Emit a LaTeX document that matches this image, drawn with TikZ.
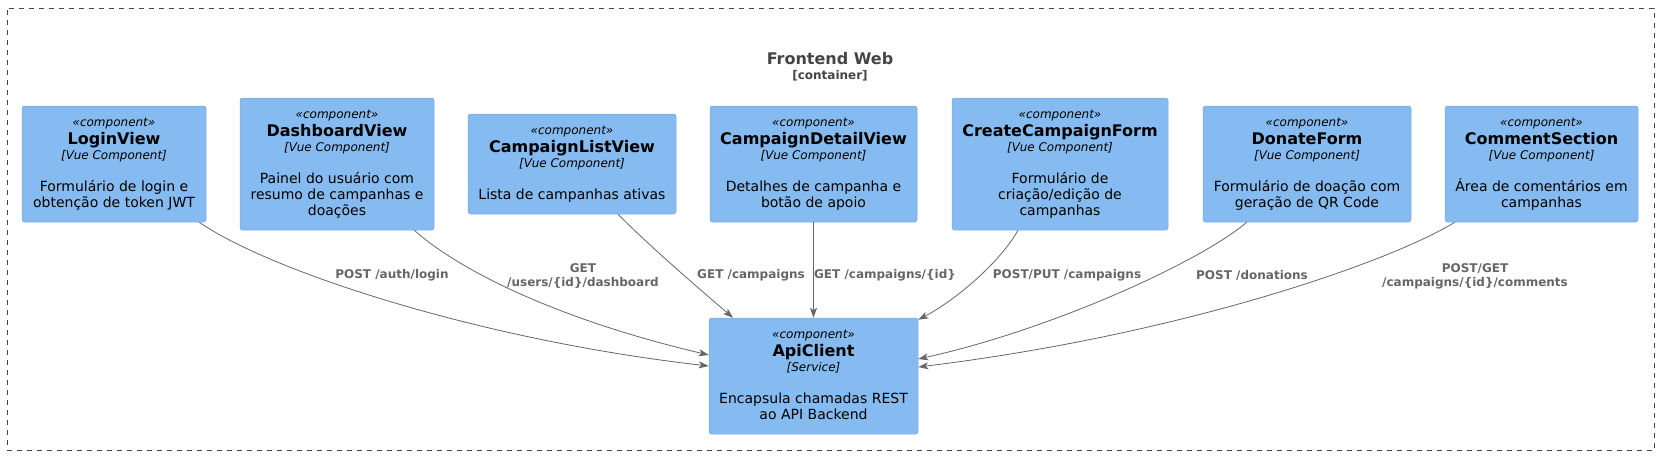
\documentclass[tikz,border=0pt]{standalone}
\usepackage{fontspec}
\setmainfont{DejaVu Sans}[ItalicFont={DejaVu Sans Oblique},BoldFont={DejaVu Sans Bold},BoldItalicFont={DejaVu Sans Bold Oblique}]
\usetikzlibrary{arrows.meta}
\definecolor{compfill}{HTML}{85BBF0}
\definecolor{compdraw}{HTML}{78A8D8}
\definecolor{edgegray}{HTML}{666666}
\definecolor{framegray}{HTML}{444444}
\tikzset{
 cbox/.style={draw=compdraw, fill=compfill, rounded corners=2.5pt, line width=0.5pt, inner sep=0pt},
 stereo/.style={anchor=base, inner sep=0pt, font=\fontsize{12}{14}\selectfont\itshape},
 cname/.style={anchor=base, inner sep=0pt, font=\fontsize{16}{19}\selectfont\bfseries},
 techtxt/.style={anchor=base, inner sep=0pt, font=\fontsize{12}{14}\selectfont\itshape},
 desctxt/.style={anchor=base, inner sep=0pt, font=\fontsize{14}{16}\selectfont},
 rel/.style={draw=edgegray, line width=0.8pt, -{Stealth[length=10pt,width=7pt,inset=2.5pt]}},
 rlabel/.style={inner sep=0pt, align=center, text=edgegray, font=\fontsize{12}{14}\selectfont\bfseries},
 boundary/.style={draw=framegray, dash pattern=on 5pt off 5pt, line width=0.8pt, inner sep=0pt},
}
\newcommand\mycomp[7]{%
  \pgfmathsetmacro\comph{84+16*#4}%
  \node[cbox, minimum width=#3, minimum height=\comph] (#1) at #2 {};
  \node[stereo] (#1-s) at ([yshift=-20.5pt]#1.north) {«component»};
  \node[cname] (#1-n) at ([yshift=-38.5pt]#1.north) {#5};
  \node[techtxt] (#1-t) at ([yshift=-53.5pt]#1.north) {[#6]};
  \foreach \dline [count=\i] in {#7} {
    \node[desctxt] (#1-d\i) at ([yshift={-86-16*(\i-1)}]#1.north) {\dline};
  }%
}
\begin{document}
\begin{tikzpicture}[x=1pt,y=-1pt]
\useasboundingbox (0,0) rectangle (1659,455);
\node[boundary, minimum width=1647.5, minimum height=442.5, anchor=north west] (frame) at (6.5,7.5) {};
\node[anchor=base, inner sep=0pt, text=framegray, font=\fontsize{16}{19}\selectfont\bfseries] (title) at (830,64) {Frontend Web};
\node[anchor=base, inner sep=0pt, text=framegray, font=\fontsize{12}{14}\selectfont\bfseries] (ctype) at (830,79) {[container]};

\mycomp{login}{(114,164)}{184}{2}{LoginView}{Vue Component}{Formulário de login e, obtenção de token JWT}
\mycomp{dash}{(337,164)}{194}{3}{DashboardView}{Vue Component}{Painel do usuário com, resumo de campanhas e, doações}
\mycomp{list}{(572,164)}{208}{1}{CampaignListView}{Vue Component}{Lista de campanhas ativas}
\mycomp{detail}{(813.5,164)}{207}{2}{CampaignDetailView}{Vue Component}{Detalhes de campanha e, botão de apoio}
\mycomp{create}{(1060,164)}{216}{3}{CreateCampaignForm}{Vue Component}{Formulário de, criação/edição de, campanhas}
\mycomp{donate}{(1307,164)}{208}{2}{DonateForm}{Vue Component}{Formulário de doação com, geração de QR Code}
\mycomp{comment}{(1541.5,164)}{193}{2}{CommentSection}{Vue Component}{Área de comentários em, campanhas}
\mycomp{api}{(813.5,376)}{209}{2}{ApiClient}{Service}{Encapsula chamadas REST, ao API Backend}

\draw[rel] ([xshift=-7pt]login.south east) .. controls +(71,49) and +(-229,-26) .. ([yshift=10pt]api.west);
\draw[rel] ([xshift=-20pt]dash.south east) .. controls +(46,41) and +(-149,-35) .. ([yshift=21pt]api.west);
\draw[rel] ([xshift=46pt]list.south) .. controls +(35,35) and +(-35,-30) .. ([xshift=-80.5pt]api.north);
\draw[rel] (detail.south) -- (api.north);
\draw[rel] ([xshift=-42pt]create.south) .. controls +(-18,32) and +(38,-20) .. ([yshift=-2pt]api.north east);
\draw[rel] ([xshift=44pt]donate.south west) .. controls +(-47,40) and +(132,-29) .. ([yshift=17pt]api.east);
\draw[rel] ([xshift=10pt]comment.south west) .. controls +(-65,40) and +(262,-32) .. ([yshift=9pt]api.east);

\node[rlabel] (l1) at (392,275) {POST /auth/login};
\node[rlabel] (l2) at (583,276) {GET\\/users/\{id\}/dashboard};
\node[rlabel] (l3) at (751,275) {GET /campaigns};
\node[rlabel] (l4) at (885,275) {GET /campaigns/\{id\}};
\node[rlabel] (l5) at (1067,275) {POST/PUT /campaigns};
\node[rlabel] (l6) at (1252,275) {POST /donations};
\node[rlabel] (l7) at (1475,276) {POST/GET\\/campaigns/\{id\}/comments};
\end{tikzpicture}
\end{document}
